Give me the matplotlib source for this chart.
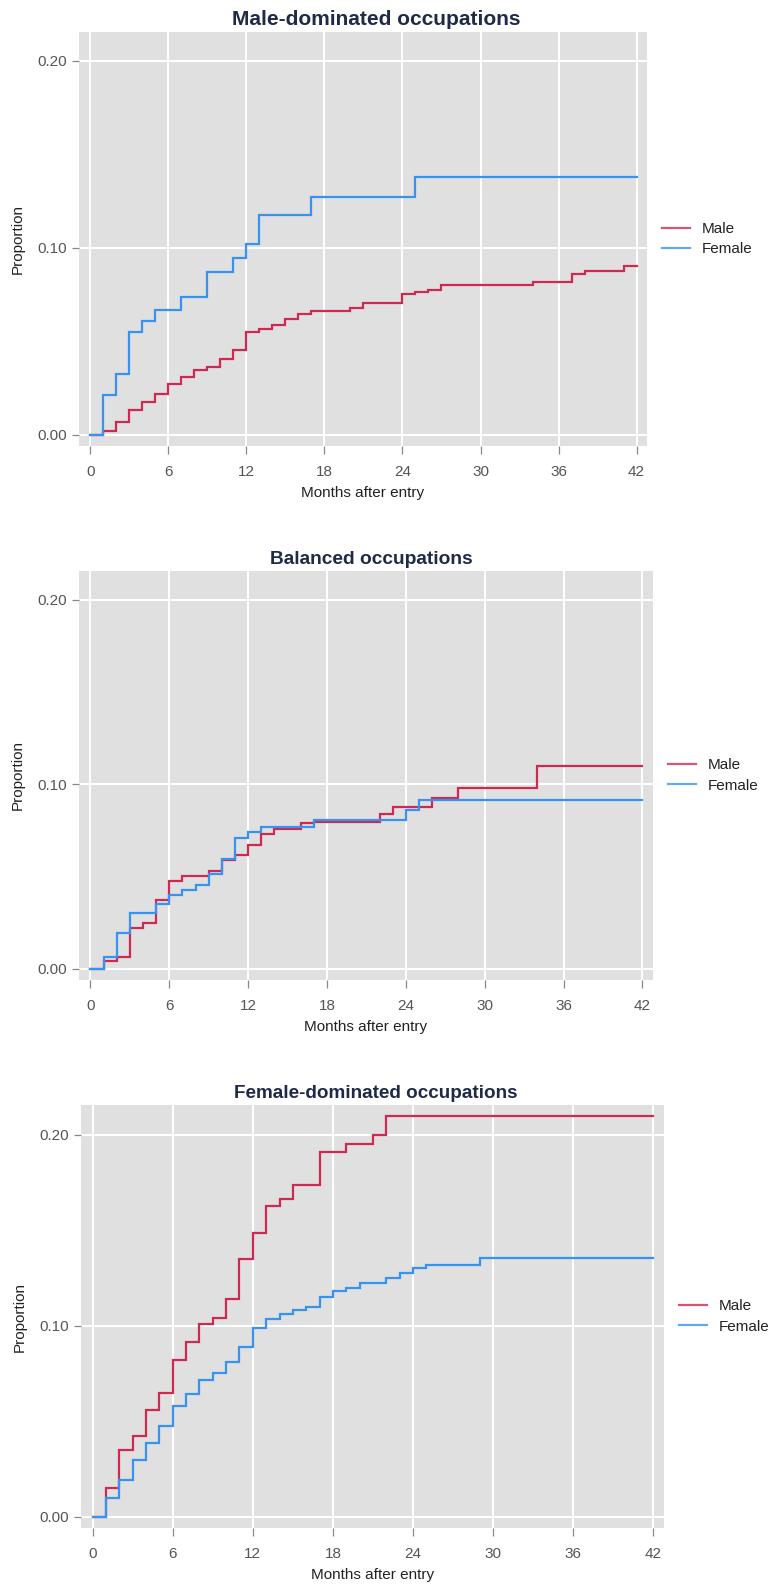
import matplotlib
matplotlib.use("Agg")
import matplotlib.pyplot as plt
import numpy as np

# ---------------- data ----------------
titles = ["Male-dominated occupations", "Balanced occupations", "Female-dominated occupations"]
series_names = ["Male", "Female"]
x_ticks = [0, 6, 12, 18, 24, 30, 36, 42]
y_ticks = [0.0, 0.10, 0.20]
end_month = 42

# Panel 1: male-dominated
p1_male_months = [0, 1, 2, 3, 4, 5, 6, 7, 8, 9, 10, 11, 12, 13, 14, 15, 16, 17, 20, 21, 24, 25, 26, 27, 34, 37, 38, 41]
p1_male_vals = [0, 0.0021, 0.0066, 0.0131, 0.0174, 0.0220, 0.0274, 0.0308, 0.0349, 0.0363, 0.0406, 0.0456,
                0.0551, 0.0565, 0.0590, 0.0621, 0.0644, 0.0660, 0.0678, 0.0707, 0.0755, 0.0764, 0.0773,
                0.0803, 0.0816, 0.0861, 0.0878, 0.0905]
p1_female_months = [0, 1, 2, 3, 4, 5, 7, 9, 11, 12, 13, 17, 25]
p1_female_vals = [0, 0.0215, 0.0324, 0.0548, 0.0607, 0.0669, 0.0737, 0.0873, 0.0948, 0.1022, 0.1176, 0.1270, 0.1378]

# Panel 2: balanced
p2_male_months = [0, 1, 2, 3, 4, 5, 6, 7, 9, 10, 11, 12, 13, 14, 16, 17, 22, 23, 26, 28, 34]
p2_male_vals = [0, 0.0044, 0.0066, 0.0222, 0.0249, 0.0373, 0.0478, 0.0505, 0.0531, 0.0590, 0.0615, 0.0672,
                0.0732, 0.0760, 0.0791, 0.0797, 0.0838, 0.0879, 0.0927, 0.0982, 0.1100]
p2_female_months = [0, 1, 2, 3, 5, 6, 7, 8, 9, 10, 11, 12, 13, 17, 24, 25]
p2_female_vals = [0, 0.0064, 0.0194, 0.0304, 0.0354, 0.0403, 0.0428, 0.0455, 0.0512, 0.0597, 0.0711, 0.0741,
                  0.0769, 0.0806, 0.0860, 0.0913]

# Panel 3: female-dominated
p3_male_months = [0, 1, 2, 3, 4, 5, 6, 7, 8, 9, 10, 11, 12, 13, 14, 15, 17, 19, 21, 22]
p3_male_vals = [0, 0.0148, 0.0349, 0.0424, 0.0560, 0.0646, 0.0820, 0.0913, 0.1007, 0.1040, 0.1141, 0.1347,
                0.1483, 0.1627, 0.1663, 0.1736, 0.1908, 0.1951, 0.2000, 0.2100]
p3_female_months = [0, 1, 2, 3, 4, 5, 6, 7, 8, 9, 10, 11, 12, 13, 14, 15, 16, 17, 18, 19, 20, 22, 23, 24, 25, 29]
p3_female_vals = [0, 0.0096, 0.0190, 0.0298, 0.0384, 0.0473, 0.0581, 0.0640, 0.0716, 0.0754, 0.0808,
                  0.0890, 0.0986, 0.1035, 0.1061, 0.1079, 0.1096, 0.1147, 0.1181, 0.1199, 0.1225,
                  0.1250, 0.1276, 0.1302, 0.1319, 0.1354]

panels = [
    ((p1_male_months, p1_male_vals), (p1_female_months, p1_female_vals)),
    ((p2_male_months, p2_male_vals), (p2_female_months, p2_female_vals)),
    ((p3_male_months, p3_male_vals), (p3_female_months, p3_female_vals)),
]

# ---------------- style ----------------
plt.rcParams['font.family'] = ['Liberation Sans', 'DejaVu Sans']
W, H = 771, 1585
fig = plt.figure(figsize=(W / 100, H / 100), dpi=100)

# axes boxes in pixels: left, right, top, bottom
boxes = [(79, 647, 32, 446), (79, 653, 571, 980), (81, 664, 1105, 1528)]
title_sizes = [15, 13.8, 13.6]
title_x = [0.523, 0.509, 0.505]
colors = ["#CC2A50", "#3893F0"]
bg = "#E0E0E0"
title_color = "#1E2A48"
tick_color = "#555555"

for (l, r, t, b), title, series, tsz, tx in zip(boxes, titles, panels, title_sizes, title_x):
    ax = fig.add_axes([l / W, 1 - b / H, (r - l) / W, (b - t) / H])
    ax.set_facecolor(bg)
    for sp in ax.spines.values():
        sp.set_visible(False)
    ax.grid(True, color="white", linewidth=1.4)
    ax.set_axisbelow(True)
    for (months, vals), name, c in zip(series, series_names, colors):
        xs = list(months) + [end_month]
        ys = list(vals) + [vals[-1]]
        ax.step(xs, ys, where="post", color=c, linewidth=1.6, label=name, solid_joinstyle="miter")
    ax.set_xlim(-0.87, 42.8)
    ax.set_ylim(-0.006, 0.2155)
    ax.set_xticks(x_ticks)
    ax.set_yticks(y_ticks)
    ax.set_yticklabels([f"{v:.2f}" for v in y_ticks])
    ax.tick_params(axis="both", direction="out", length=5, width=0.9, color="#888888",
                   labelcolor=tick_color, labelsize=11)
    ax.tick_params(axis="x", pad=7.5, length=6)
    ax.tick_params(axis="y", pad=4)
    ax.set_xlabel("Months after entry", fontsize=11, color="#222222", labelpad=5)
    ax.set_ylabel("Proportion", fontsize=11, color="#222222", labelpad=9)
    ax.set_title(title, fontsize=tsz, fontweight="bold", color=title_color, pad=5, x=tx)
    leg = ax.legend(loc="center left", bbox_to_anchor=(1.0, 0.5), frameon=False,
                    fontsize=11, handlelength=1.8, handletextpad=0.8, borderaxespad=0.6,
                    labelspacing=0.4)
    for txt in leg.get_texts():
        txt.set_color("#222222")
    for ln in leg.get_lines():
        ln.set_alpha(0.8)

fig.savefig("out.png", dpi=100, facecolor="white")
